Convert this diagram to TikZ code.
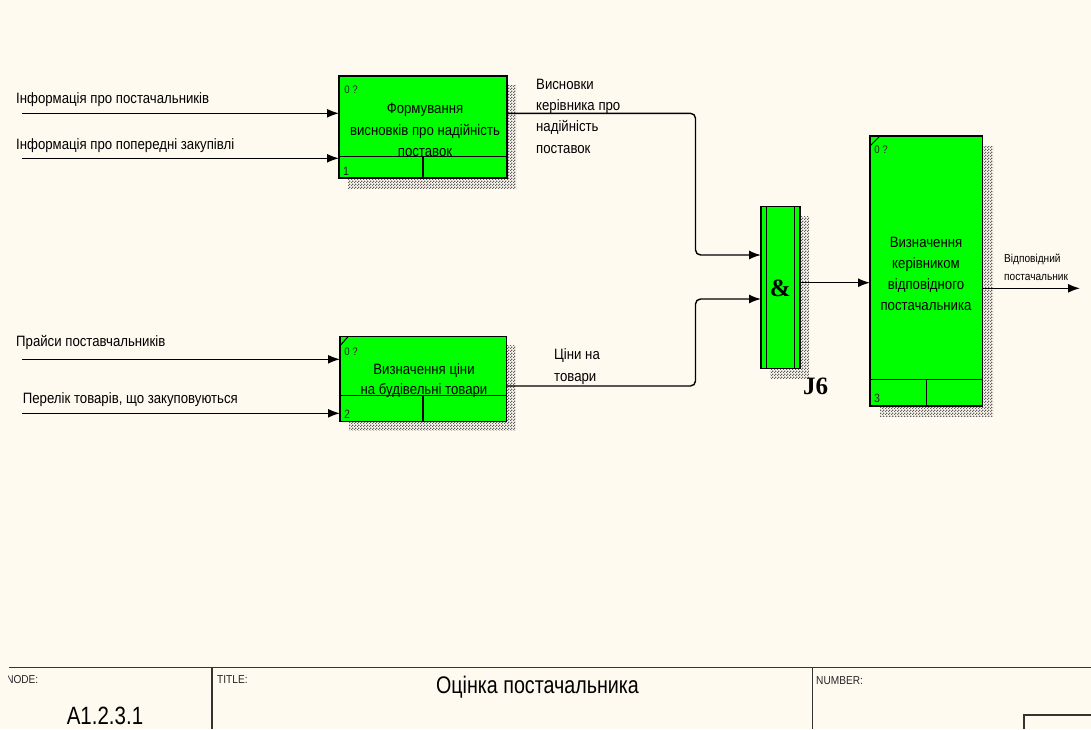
\documentclass[tikz,border=0pt]{standalone}
\usepackage{fontspec}
\usetikzlibrary{arrows.meta,patterns.meta}
\newfontfamily\af{Liberation Sans}[FakeStretch=0.88]
\newfontfamily\tf{Liberation Sans}[FakeStretch=0.82]
\newfontfamily\jf{Liberation Serif}
\definecolor{bg}{RGB}{255,250,240}
\definecolor{boxgreen}{RGB}{0,255,0}
\definecolor{hatch}{RGB}{95,95,95}
\tikzdeclarepattern{
  name=finecheck,
  type=uncolored,
  bounding box={(0pt,0pt) and (3pt,3pt)},
  tile size={(3pt,3pt)},
  code={
    \pgfpathrectangle{\pgfpointorigin}{\pgfpoint{1.5pt}{1.5pt}}
    \pgfpathrectangle{\pgfpoint{1.5pt}{1.5pt}}{\pgfpoint{1.5pt}{1.5pt}}
    \pgfusepath{fill}
  }
}
\begin{document}
\begin{tikzpicture}[x=1pt,y=-1pt,
  box/.style={draw=black, fill=boxgreen, line width=1.2pt, inner sep=0pt, outer sep=0pt, anchor=north west},
  shadow/.style={pattern=finecheck, pattern color=hatch},
  inner/.style={line width=1.2pt},
  conn/.style={line width=1.4pt, rounded corners=5pt, -{Latex[length=12pt,width=9pt]}},
  lbl/.style={font=\af\fontsize{15}{21.3}\selectfont, inner sep=0pt, align=left, text=black},
  btxt/.style={font=\af\fontsize{15}{21.5}\selectfont, inner sep=0pt, align=center, text=black},
  small/.style={font=\af\fontsize{11}{13}\selectfont, inner sep=0pt, text=black!85},
  tag/.style={font=\af\fontsize{11.5}{13}\selectfont, inner sep=0pt, text=black!85},
  jtxt/.style={font=\jf\bfseries\fontsize{25}{27}\selectfont, inner sep=0pt},
  frame/.style={line width=1.5pt, draw=black!80}
]
\useasboundingbox (0,0) rectangle (1091,729);
\fill[bg] (0,0) rectangle (1091,729);

% ---------- box 1 ----------
\fill[shadow] (348,85) rectangle (516,188);
\node[box, minimum width=168pt, minimum height=102pt] (b1) at (339,76) {};
\draw[inner] ([yshift=21.3pt]b1.south west) -- ([yshift=21.3pt]b1.south east);
\draw[inner] ([xshift=84pt]b1.south west) -- ++(0,-21.3);
\node[btxt] (t1) at (425,130) {Формування\\висновків про надійність\\поставок};
\node[small] (z1) at (351,90) {0 ?};
\node[small, font=\af\fontsize{12}{14}\selectfont] (n1) at (346,171.3) {1};

% ---------- box 2 ----------
\fill[shadow] (349,345.7) rectangle (515.7,430.7);
\node[box, minimum width=166.7pt, minimum height=85pt] (b2) at (340,336.7) {};
\draw[inner] ([yshift=26pt]b2.south west) -- ([yshift=26pt]b2.south east);
\draw[inner] ([xshift=83pt]b2.south west) -- ++(0,-26);
\draw[line width=1pt] ([yshift=-9pt]b2.north west) -- ([xshift=8pt]b2.north west);
\node[btxt, font=\af\fontsize{15}{20}\selectfont] (t2) at (424,381) {Визначення ціни\\на будівельні товари};
\node[small] (z2) at (351,351.7) {0 ?};
\node[small, font=\af\fontsize{12}{14}\selectfont] (n2) at (347,414) {2};

% ---------- junction J6 ----------
\fill[shadow] (770,216.7) rectangle (809,378.3);
\node[box, minimum width=39pt, minimum height=161.6pt] (j6) at (761,206.7) {};
\draw[inner] ([xshift=5.7pt]j6.north west) -- ([xshift=5.7pt]j6.south west);
\draw[inner] ([xshift=-5.7pt]j6.north east) -- ([xshift=-5.7pt]j6.south east);
\node[jtxt] (amp) at (780.3,288.7) {\&};
\node[jtxt] (jl) at (815.5,386.7) {J6};

% ---------- box 3 ----------
\fill[shadow] (880,146) rectangle (993,416.5);
\node[box, minimum width=112.7pt, minimum height=270pt] (b3) at (870,136) {};
\draw[inner] ([yshift=26.7pt]b3.south west) -- ([yshift=26.7pt]b3.south east);
\draw[inner] ([xshift=56.7pt]b3.south west) -- ++(0,-26.7);
\draw[line width=1pt] ([yshift=-10pt]b3.north west) -- ([xshift=10pt]b3.north west);
\node[btxt, font=\af\fontsize{15}{21}\selectfont] (t3) at (926,273.5) {Визначення\\керівником\\відповідного\\постачальника};
\node[small] (z3) at (881,149.7) {0 ?};
\node[small, font=\af\fontsize{12}{14}\selectfont] (n3) at (877,398.3) {3};

% ---------- inputs ----------
\coordinate (i1) at (22,113.3);
\coordinate (i2) at (22,158.3);
\coordinate (i3) at (22,359.3);
\coordinate (i4) at (22,413.3);
\draw[conn] (i1) -- (i1 -| b1.west);
\draw[conn] (i2) -- (i2 -| b1.west);
\draw[conn] (i3) -- (i3 -| b2.west);
\draw[conn] (i4) -- (i4 -| b2.west);
\node[lbl, anchor=base west] (l1) at (16,103) {Інформація про постачальників};
\node[lbl, anchor=base west] (l2) at (16,149) {Інформація про попередні закупівлі};
\node[lbl, anchor=base west] (l3) at (16,346.5) {Прайси поставчальників};
\node[lbl, anchor=base west] (l4) at (22.7,403.3) {Перелік товарів, що закуповуються};

% ---------- internal connectors ----------
\coordinate (o1) at (507,113.3);
\coordinate (o2) at (506.7,386);
\coordinate (k) at (695.5,0);
\coordinate (j1) at (761,255);
\coordinate (j2) at (761,299);
\draw[conn] (o1) -| (k |- j1) -- (j1);
\draw[conn] (o2) -| (k |- j2) -- (j2);
\coordinate (jo) at (800,282.7);
\draw[conn] (jo) -- (jo -| b3.west);
\coordinate (o3) at (1080,288.3);
\draw[conn] (o3 -| b3.east) -- (o3);

\node[lbl, anchor=west] (l5) at (536,116) {Висновки\\керівника про\\надійність\\поставок};
\node[lbl, anchor=west] (l6) at (554,366.5) {Ціни на\\товари};
\node[lbl, anchor=west, font=\af\fontsize{11.5}{18}\selectfont] (l7) at (1004,267) {Відповідний\\постачальник};

% ---------- title block ----------
\coordinate (f1) at (9,667.7);
\coordinate (f2) at (1091,667.7);
\draw[frame] (f1) -- (f2);
\coordinate (v1) at (212,667.7);
\coordinate (v2) at (812.7,667.7);
\draw[frame] (v1) -- (v1 |- 0,729);
\draw[frame] (v2) -- (v2 |- 0,729);
\coordinate (sb) at (1024,715);
\draw[frame, line width=1.2pt] (sb |- 0,729) -- (sb) -- (sb -| f2);
\begin{scope}
\clip (8,670) rectangle (200,700);
\node[tag, anchor=base east] (nd) at (38.5,683.3) {NODE:};
\end{scope}
\node[tag, anchor=base west] (tt) at (217,683.3) {TITLE:};
\node[tag, anchor=base west] (nb) at (816,684) {NUMBER:};
\node[font=\tf\fontsize{24}{26}\selectfont, inner sep=0pt] (title) at (537.5,686.7) {Оцінка постачальника};
\node[font=\tf\fontsize{25}{27}\selectfont, inner sep=0pt] (num) at (105,716) {A1.2.3.1};
\end{tikzpicture}
\end{document}
